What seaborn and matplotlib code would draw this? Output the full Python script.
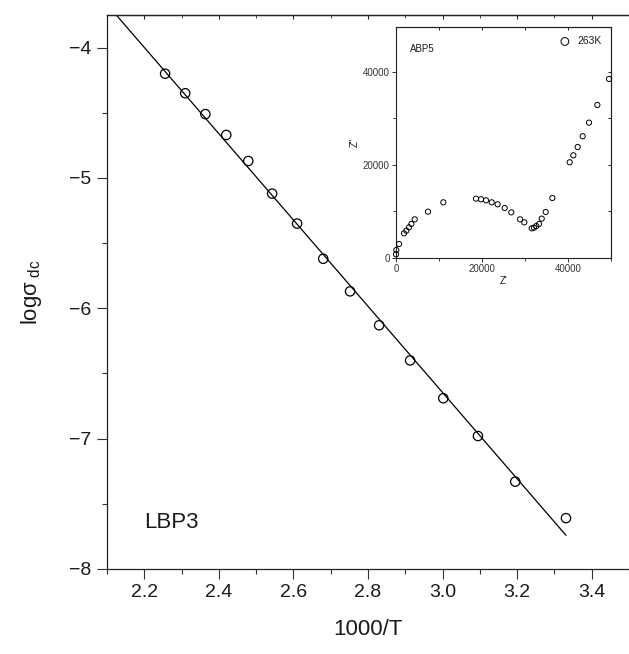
import numpy as np
import pandas as pd
import matplotlib
matplotlib.use("Agg")
import matplotlib.pyplot as plt
from matplotlib.ticker import MultipleLocator
import seaborn as sns

# main panel: log conductivity vs 1000/T
inv_T = [2.256, 2.310, 2.364, 2.420, 2.479, 2.543, 2.610, 2.680, 2.752,
         2.830, 2.913, 3.002, 3.095, 3.195, 3.331]
log_sigma = [-4.20, -4.35, -4.51, -4.67, -4.87, -5.12, -5.35, -5.62, -5.87,
             -6.13, -6.40, -6.69, -6.98, -7.33, -7.61]
# linear fit
fit_slope = -3.31
fit_intercept = 3.284
fit_x = [2.10, 3.331]

# inset: Nyquist plot at 263K
z_real = [0, 70, 700, 1860, 2400, 3020, 3570, 4340, 7440, 11000,
          18600, 19770, 20930, 22250, 23640, 25270, 26820, 28840, 29840,
          31550, 32090, 32630, 33260, 33880, 34810, 36360,
          40390, 41240, 42250, 43410, 44880, 46820, 49530]
z_imag = [800, 1720, 3010, 5300, 5880, 6590, 7310, 8310, 9960, 11970,
          12760, 12620, 12400, 11970, 11540, 10750, 9820, 8310, 7670,
          6380, 6520, 6880, 7310, 8460, 9890, 12900,
          20580, 22080, 23870, 26170, 29100, 32900, 38490]

main_df = pd.DataFrame({"x": inv_T, "y": log_sigma})
fit_df = pd.DataFrame({"x": fit_x, "y": np.polyval([fit_slope, fit_intercept], fit_x)})
nyq_df = pd.DataFrame({"zr": z_real, "zi": z_imag})

sns.set_style("ticks")
plt.rcParams["font.family"] = ["Liberation Sans", "DejaVu Sans"]
plt.rcParams["mathtext.fontset"] = "custom"
plt.rcParams["mathtext.rm"] = "Liberation Sans"
plt.rcParams["mathtext.it"] = "Liberation Sans:italic"
plt.rcParams["text.color"] = "#1a1a1a"
plt.rcParams["axes.labelcolor"] = "#1a1a1a"

fig = plt.figure(figsize=(6.29, 6.54), dpi=100)
ax = fig.add_axes([0.170, 0.130, 0.830, 0.847])

sns.lineplot(data=fit_df, x="x", y="y", ax=ax, color="black", lw=0.9)
sns.scatterplot(data=main_df, x="x", y="y", ax=ax, marker="o", s=45,
                facecolor="none", edgecolor="black", linewidth=0.9, zorder=3)

ax.set_xlim(2.1, 3.5)
ax.set_ylim(-8, -3.75)
ax.xaxis.set_major_locator(MultipleLocator(0.2))
ax.xaxis.set_minor_locator(MultipleLocator(0.1))
ax.yaxis.set_major_locator(MultipleLocator(1))
ax.yaxis.set_minor_locator(MultipleLocator(0.5))
ax.xaxis.set_major_formatter(lambda v, p: f"{v:.1f}")
ax.yaxis.set_major_formatter(lambda v, p: f"\u2212{abs(v):.0f}")
ax.tick_params(which="major", direction="out", length=7.5, width=0.8,
               labelsize=14, labelcolor="#1a1a1a", color="#333333")
ax.tick_params(which="minor", direction="out", length=3.5, width=0.8, color="#333333")
ax.spines["right"].set_visible(False)
for s in ["left", "bottom", "top"]:
    ax.spines[s].set_linewidth(0.9)
    ax.spines[s].set_color("#222222")
ax.set_xlabel("1000/T", fontsize=16, labelpad=13)
ax.set_ylabel(r"log$\mathregular{\sigma_{\ dc}}$", fontsize=16, labelpad=18)

top = ax.secondary_xaxis("top")
top.xaxis.set_major_locator(MultipleLocator(0.2))
top.xaxis.set_minor_locator(MultipleLocator(0.1))
top.tick_params(which="major", direction="in", length=3, labeltop=False)
top.tick_params(which="minor", direction="in", length=2)
top.spines["top"].set_linewidth(0.9)

ax.text(2.2, -7.64, "LBP3", fontsize=16, va="center", ha="left")

# inset
ins = fig.add_axes([0.6296, 0.6055, 0.3418, 0.3535])
sns.scatterplot(data=nyq_df, x="zr", y="zi", ax=ins, marker="o", s=14,
                facecolor="none", edgecolor="black", linewidth=0.7,
                label="263K", clip_on=False, zorder=3)
ins.set_xlim(0, 50000)
ins.set_ylim(0, 49700)
ins.xaxis.set_major_locator(MultipleLocator(20000))
ins.xaxis.set_minor_locator(MultipleLocator(10000))
ins.yaxis.set_major_locator(MultipleLocator(20000))
ins.yaxis.set_minor_locator(MultipleLocator(10000))
ins.tick_params(which="both", direction="out", length=3, width=0.7,
                labelsize=7, pad=1.5, colors="#333333")
ins.tick_params(which="minor", length=2)
for s in ins.spines.values():
    s.set_linewidth(0.8)
    s.set_color("#222222")
ins.set_xlabel("Z'", fontsize=7, labelpad=1)
ins.set_ylabel('Z"', fontsize=7, labelpad=2)
ins.text(0.065, 0.905, "ABP5", transform=ins.transAxes, fontsize=7, va="center")
ins.legend(loc="upper right", frameon=False, fontsize=7.5, handletextpad=0.7,
           borderaxespad=0.5, handlelength=1.0, markerscale=1.5)

rsec = ins.secondary_yaxis("right")
rsec.yaxis.set_major_locator(MultipleLocator(10000))
rsec.tick_params(direction="in", length=2.5, width=0.7, labelright=False)
tsec = ins.secondary_xaxis("top")
tsec.xaxis.set_major_locator(MultipleLocator(10000))
tsec.tick_params(direction="in", length=2.5, width=0.7, labeltop=False)

fig.savefig("out.png", dpi=100)
